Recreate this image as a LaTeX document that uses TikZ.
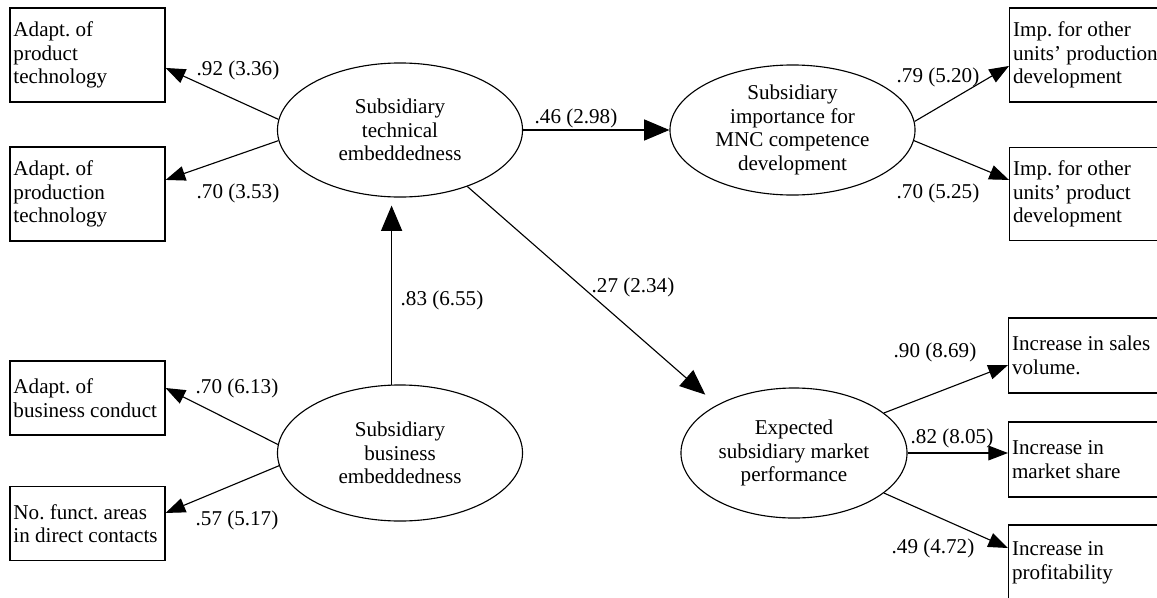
\documentclass[tikz,border=0pt]{standalone}
\usepackage{fontspec}
\setmainfont{Liberation Serif}
\usetikzlibrary{arrows.meta,shapes.geometric}

\begin{document}
\begin{tikzpicture}[x=0.025cm,y=-0.025cm,thick,
        font=\fontsize{15}{16.8}\selectfont\frenchspacing,
        box/.style={draw,rectangle,text width=3.7cm,align=flush left,inner xsep=0.0875cm,inner ysep=0pt},
        latent/.style={draw,ellipse,align=center,inner sep=0pt},
        ld/.style={-{Triangle[length=14pt,width=10.5pt]}},
        st/.style={-{Triangle[length=18pt,width=15pt]}}]
            \useasboundingbox (0,0) rectangle (1157,598);
            % latent constructs
            \node[latent,minimum width=6.125cm,minimum height=3.35cm] (3) at (400,130) {Subsidiary\\technical\\embeddedness};
            \node[latent,minimum width=6.125cm,minimum height=3.25cm] (4) at (792.5,130) {Subsidiary\\importance for\\MNC competence\\development};
            \node[latent,minimum width=6.125cm,minimum height=3.4cm] (7) at (400,453) {Subsidiary\\business\\embeddedness};
            \node[latent,minimum width=5.65cm,minimum height=3.25cm] (10) at (794,453) {Expected\\subsidiary market\\performance};
            % indicators
            \node[box,minimum height=2.35cm] (1) at (87.5,55) {Adapt. of\\product\\technology};
            \node[box,minimum height=2.35cm] (2) at (87.5,194) {Adapt. of\\production\\technology};
            \node[box,minimum height=1.85cm] (8) at (87.5,398) {Adapt. of\\business conduct};
            \node[box,minimum height=1.83cm] (9) at (87.5,523.5) {No. funct. areas\\in direct contacts};
            \node[box,text width=4cm,minimum height=2.35cm,anchor=west] (5) at (1009,55) {Imp. for other\\units' production\\development};
            \node[box,text width=4cm,minimum height=2.33cm,anchor=west] (6) at (1009,194) {Imp. for other\\units' product\\development};
            \node[box,text width=4cm,minimum height=1.875cm,anchor=west] (11) at (1008,355.5) {Increase in sales\\volume.};
            \node[box,text width=4cm,minimum height=1.875cm,anchor=west] (12) at (1008,459.5) {Increase in\\market share};
            \node[box,text width=4cm,minimum height=1.875cm,anchor=west] (13) at (1008,562.5) {Increase in\\profitability};
            % paths
            \draw[st] (3.east) -- (4.west);
            \draw[st,shorten >=5.7pt] (7.97) -- (7.97 |- 3.south);
            \draw[st,shorten >=11pt] (3.-40) -- (10.148);
            \draw[ld] (3.175) -- ([yshift=-9.2pt]1.east);
            \draw[ld] (3.185) -- ([yshift=10pt]2.east);
            \draw[ld] (4.4) -- ([yshift=-7.8pt]5.west);
            \draw[ld] (4.-5) -- ([yshift=10pt]6.west);
            \draw[ld] (7.176) -- ([yshift=7.1pt]8.east);
            \draw[ld] (7.186) -- ([yshift=7.5pt]9.east);
            \draw[ld] (10.24) -- ([yshift=-6.8pt]11.west);
            \draw[ld] (10.east) -- (10.east -| 12.west);
            \draw[ld] (10.-24) -- ([yshift=10.3pt]13.west);
            % estimates
            \node (l1) at (238,70) {.92 (3.36)};
            \node (l2) at (238,193) {.70 (3.53)};
            \node (l3) at (576,118) {.46 (2.98)};
            \node (l4) at (938,77) {.79 (5.20)};
            \node (l5) at (938,193) {.70 (5.25)};
            \node (l6) at (442,300) {.83 (6.55)};
            \node (l7) at (633,287) {.27 (2.34)};
            \node (l8) at (237,388) {.70 (6.13)};
            \node (l9) at (237,520) {.57 (5.17)};
            \node (l10) at (935,352) {.90 (8.69)};
            \node (l11) at (952,438) {.82 (8.05)};
            \node (l12) at (933,548) {.49 (4.72)};
        \end{tikzpicture}
\end{document}
